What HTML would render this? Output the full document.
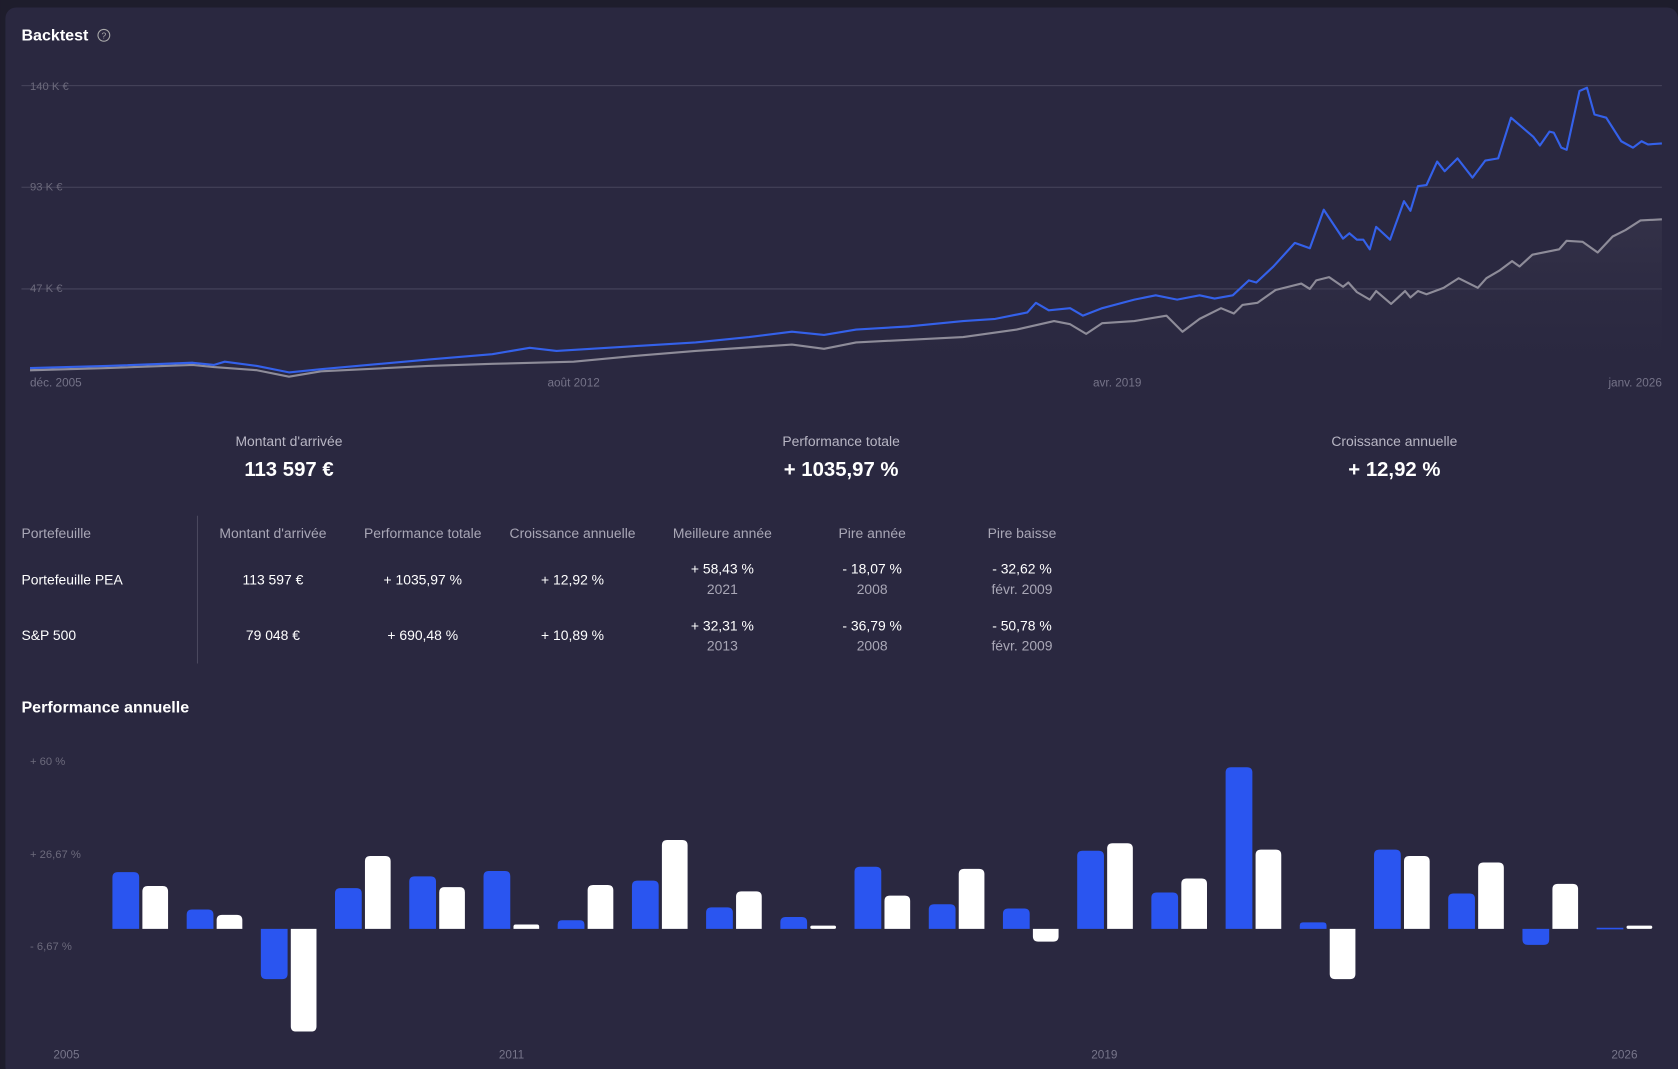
<!DOCTYPE html>
<html><head><meta charset="utf-8"><style>
html,body{margin:0;padding:0;background:#1e1d2c;}
svg{display:block;font-family:"Liberation Sans",sans-serif;}
</style></head><body>
<svg width="1678" height="1069" viewBox="0 0 1568 999" xmlns="http://www.w3.org/2000/svg">
<defs>
<linearGradient id="ga" x1="0" y1="0" x2="0" y2="1"><stop offset="0" stop-color="#3a384e" stop-opacity="0.6"/><stop offset="1" stop-color="#2a2840" stop-opacity="0"/></linearGradient>
</defs>
<rect x="0" y="0" width="1568" height="999" fill="#1e1d2c"/>
<rect x="5" y="7" width="1563" height="1000" rx="10" fill="#2a2840"/>
<text x="20" y="38" fill="#fff" font-size="15" font-weight="bold">Backtest</text>
<circle cx="97" cy="33" r="5.5" fill="none" stroke="#aaa" stroke-width="1"/>
<text x="97" y="36" fill="#aaa" font-size="8" text-anchor="middle">?</text>

<g stroke="#47455c" stroke-width="1">
<line x1="20" y1="80" x2="1553" y2="80"/><line x1="20" y1="175" x2="1553" y2="175"/><line x1="20" y1="270" x2="1553" y2="270"/>
</g>
<g fill="#6c6a7c" font-size="10.5">
<text x="28" y="84">140 K €</text><text x="28" y="178">93 K €</text><text x="28" y="273">47 K €</text>
</g>
<g fill="#77758a" font-size="11">
<text x="28" y="361">déc. 2005</text><text x="536" y="361" text-anchor="middle">août 2012</text><text x="1044" y="361" text-anchor="middle">avr. 2019</text><text x="1553" y="361" text-anchor="end">janv. 2026</text>
</g>
<path d="M28,346 L100,344 L180,341 L200,343 L240,346 L270,352 L300,347 L400,342 L460,340 L536,338 L600,332 L650,328 L740,322 L770,326 L800,320 L900,315 L950,308 L985,300 L1000,303 L1015,312 L1030,302 L1060,300 L1090,295 L1105,310 L1121,298 L1141,288 L1153,293 L1161,285 L1175,283 L1192,271 L1216,265 L1224,270 L1230,262 L1242,259 L1255,268 L1260,264 L1268,273 L1280,280 L1286,272 L1300,284 L1313,272 L1318,278 L1325,272 L1333,275 L1349,269 L1363,260 L1381,269 L1389,260 L1401,253 L1413,244 L1420,249 L1432,238 L1457,233 L1464,225 L1479,226 L1493,236 L1507,221 L1519,215 L1533,206 L1553,205 L1553,365 L28,365 Z" fill="url(#ga)"/>
<path d="M28,346 L100,344 L180,341 L200,343 L240,346 L270,352 L300,347 L400,342 L460,340 L536,338 L600,332 L650,328 L740,322 L770,326 L800,320 L900,315 L950,308 L985,300 L1000,303 L1015,312 L1030,302 L1060,300 L1090,295 L1105,310 L1121,298 L1141,288 L1153,293 L1161,285 L1175,283 L1192,271 L1216,265 L1224,270 L1230,262 L1242,259 L1255,268 L1260,264 L1268,273 L1280,280 L1286,272 L1300,284 L1313,272 L1318,278 L1325,272 L1333,275 L1349,269 L1363,260 L1381,269 L1389,260 L1401,253 L1413,244 L1420,249 L1432,238 L1457,233 L1464,225 L1479,226 L1493,236 L1507,221 L1519,215 L1533,206 L1553,205" fill="none" stroke="#8e8c99" stroke-width="2" stroke-linejoin="round"/>
<path d="M28,344 L100,342 L180,339 L200,341 L210,338 L240,342 L270,348 L300,345 L400,336 L460,331 L495,325 L520,328 L600,323 L650,320 L700,315 L740,310 L770,313 L800,308 L850,305 L900,300 L930,298 L960,292 L968,283 L980,290 L1000,288 L1012,295 L1030,288 L1060,280 L1080,276 L1100,280 L1121,276 L1135,279 L1152,276 L1167,262 L1174,264 L1190,249 L1210,227 L1224,232 L1237,196 L1255,223 L1261,218 L1268,224 L1274,224 L1280,233 L1286,212 L1299,224 L1312,188 L1318,197 L1325,174 L1333,173 L1343,151 L1350,160 L1362,148 L1376,166 L1388,150 L1400,148 L1412,110 L1433,128 L1439,136 L1448,123 L1452,124 L1459,138 L1464,140 L1476,85 L1483,82 L1490,107 L1501,110 L1515,132 L1526,138 L1534,132 L1540,135 L1553,134" fill="none" stroke="#3461ea" stroke-width="2" stroke-linejoin="round"/>

<g font-size="13" fill="#b8b6c4" text-anchor="middle">
<text x="270" y="417">Montant d'arrivée</text><text x="786" y="417">Performance totale</text><text x="1303" y="417">Croissance annuelle</text>
</g>
<g font-size="19" fill="#fff" font-weight="bold" text-anchor="middle">
<text x="270" y="445">113 597 €</text><text x="786" y="445">+ 1035,97 %</text><text x="1303" y="445">+ 12,92 %</text>
</g>

<line x1="184.5" y1="482" x2="184.5" y2="620" stroke="#4a485e"/>
<g font-size="13" fill="#a9a7b6">
<text x="20" y="503">Portefeuille</text>
<g text-anchor="middle"><text x="255" y="503">Montant d'arrivée</text><text x="395" y="503">Performance totale</text><text x="535" y="503">Croissance annuelle</text><text x="675" y="503">Meilleure année</text><text x="815" y="503">Pire année</text><text x="955" y="503">Pire baisse</text></g>
</g>
<g font-size="13" fill="#fff">
<text x="20" y="546">Portefeuille PEA</text><text x="20" y="598">S&amp;P 500</text>
<g text-anchor="middle">
<text x="255" y="546">113 597 €</text><text x="395" y="546">+ 1035,97 %</text><text x="535" y="546">+ 12,92 %</text>
<text x="675" y="536">+ 58,43 %</text><text x="815" y="536">- 18,07 %</text><text x="955" y="536">- 32,62 %</text>
<text x="255" y="598">79 048 €</text><text x="395" y="598">+ 690,48 %</text><text x="535" y="598">+ 10,89 %</text>
<text x="675" y="589">+ 32,31 %</text><text x="815" y="589">- 36,79 %</text><text x="955" y="589">- 50,78 %</text>
</g></g>
<g font-size="13" fill="#a9a7b6" text-anchor="middle">
<text x="675" y="555">2021</text><text x="815" y="555">2008</text><text x="955" y="555">févr. 2009</text>
<text x="675" y="608">2013</text><text x="815" y="608">2008</text><text x="955" y="608">févr. 2009</text>
</g>

<text x="20" y="666" fill="#fff" font-size="15" font-weight="bold">Performance annuelle</text>
<g fill="#6c6a7c" font-size="10.5">
<text x="28" y="715">+ 60 %</text><text x="28" y="802">+ 26,67 %</text><text x="28" y="888">- 6,67 %</text>
</g>
<g fill="#77758a" font-size="11" text-anchor="middle">
<text x="62" y="989">2005</text><text x="478" y="989">2011</text><text x="1032" y="989">2019</text><text x="1518" y="989">2026</text>
</g>
<g fill="#2a55f0">
<path d="M105 868V820Q105 815 110 815H125Q130 815 130 820V868Z"/>
<path d="M174.4 868V855Q174.4 850 179.4 850H194.4Q199.4 850 199.4 855V868Z"/>
<path d="M243.7 868V910Q243.7 915 248.7 915H263.7Q268.7 915 268.7 910V868Z"/>
<path d="M313 868V835Q313 830 318 830H333Q338 830 338 835V868Z"/>
<path d="M382.4 868V824Q382.4 819 387.4 819H402.4Q407.4 819 407.4 824V868Z"/>
<path d="M451.8 868V819Q451.8 814 456.8 814H471.8Q476.8 814 476.8 819V868Z"/>
<path d="M521.1 868V864Q521.1 860 525.1 860H542.1Q546.1 860 546.1 864V868Z"/>
<path d="M590.5 868V828Q590.5 823 595.5 823H610.5Q615.5 823 615.5 828V868Z"/>
<path d="M659.8 868V853Q659.8 848 664.8 848H679.8Q684.8 848 684.8 853V868Z"/>
<path d="M729.2 868V862Q729.2 857 734.2 857H749.2Q754.2 857 754.2 862V868Z"/>
<path d="M798.5 868V815Q798.5 810 803.5 810H818.5Q823.5 810 823.5 815V868Z"/>
<path d="M867.9 868V850Q867.9 845 872.9 845H887.9Q892.9 845 892.9 850V868Z"/>
<path d="M937.2 868V854Q937.2 849 942.2 849H957.2Q962.2 849 962.2 854V868Z"/>
<path d="M1006.6 868V800Q1006.6 795 1011.6 795H1026.6Q1031.6 795 1031.6 800V868Z"/>
<path d="M1075.9 868V839Q1075.9 834 1080.9 834H1095.9Q1100.9 834 1100.9 839V868Z"/>
<path d="M1145.3 868V722Q1145.3 717 1150.3 717H1165.3Q1170.3 717 1170.3 722V868Z"/>
<path d="M1214.6 868V865Q1214.6 862 1217.6 862H1236.6Q1239.6 862 1239.6 865V868Z"/>
<path d="M1284 868V799Q1284 794 1289 794H1304Q1309 794 1309 799V868Z"/>
<path d="M1353.3 868V840Q1353.3 835 1358.3 835H1373.3Q1378.3 835 1378.3 840V868Z"/>
<path d="M1422.7 868V878Q1422.7 883 1427.7 883H1442.7Q1447.7 883 1447.7 878V868Z"/>
<rect x="1492" y="867" width="25" height="1.5"/>
</g>
<g fill="#ffffff">
<path d="M133 868V833Q133 828 138 828H152Q157 828 157 833V868Z"/>
<path d="M202.4 868V860Q202.4 855 207.4 855H221.4Q226.4 855 226.4 860V868Z"/>
<path d="M271.7 868V959Q271.7 964 276.7 964H290.7Q295.7 964 295.7 959V868Z"/>
<path d="M341 868V805Q341 800 346 800H360Q365 800 365 805V868Z"/>
<path d="M410.4 868V834Q410.4 829 415.4 829H429.4Q434.4 829 434.4 834V868Z"/>
<path d="M479.8 868V866Q479.8 864 481.8 864H501.8Q503.8 864 503.8 866V868Z"/>
<path d="M549.1 868V832Q549.1 827 554.1 827H568.1Q573.1 827 573.1 832V868Z"/>
<path d="M618.5 868V790Q618.5 785 623.5 785H637.5Q642.5 785 642.5 790V868Z"/>
<path d="M687.8 868V838Q687.8 833 692.8 833H706.8Q711.8 833 711.8 838V868Z"/>
<rect x="757.2" y="865" width="24" height="3" rx="1.5"/>
<path d="M826.5 868V842Q826.5 837 831.5 837H845.5Q850.5 837 850.5 842V868Z"/>
<path d="M895.9 868V817Q895.9 812 900.9 812H914.9Q919.9 812 919.9 817V868Z"/>
<path d="M965.2 868V875Q965.2 880 970.2 880H984.2Q989.2 880 989.2 875V868Z"/>
<path d="M1034.6 868V793Q1034.6 788 1039.6 788H1053.6Q1058.6 788 1058.6 793V868Z"/>
<path d="M1103.9 868V826Q1103.9 821 1108.9 821H1122.9Q1127.9 821 1127.9 826V868Z"/>
<path d="M1173.3 868V799Q1173.3 794 1178.3 794H1192.3Q1197.3 794 1197.3 799V868Z"/>
<path d="M1242.6 868V910Q1242.6 915 1247.6 915H1261.6Q1266.6 915 1266.6 910V868Z"/>
<path d="M1312 868V805Q1312 800 1317 800H1331Q1336 800 1336 805V868Z"/>
<path d="M1381.3 868V811Q1381.3 806 1386.3 806H1400.3Q1405.3 806 1405.3 811V868Z"/>
<path d="M1450.7 868V831Q1450.7 826 1455.7 826H1469.7Q1474.7 826 1474.7 831V868Z"/>
<rect x="1520" y="865" width="24" height="3" rx="1.5"/>
</g>
</svg>
</body></html>
